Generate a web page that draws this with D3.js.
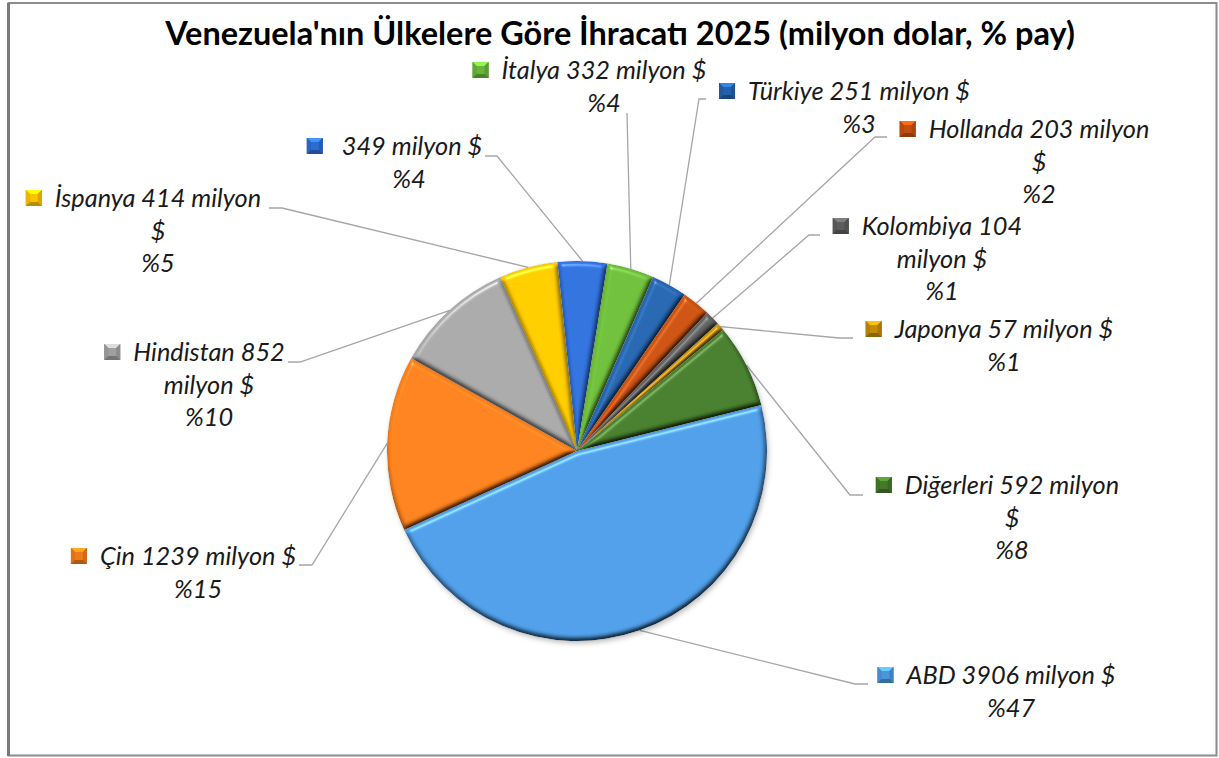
<!DOCTYPE html>
<html><head><meta charset="utf-8">
<script src="https://cdn.jsdelivr.net/npm/d3@7"></script>
<style>
body{margin:0;background:#fff}
svg{display:block}
text{font-family:Lato,'Open Sans',sans-serif;white-space:pre}
</style>
</head><body><script>
// ---------- data ----------
const categories = ["ABD","Çin","Hindistan","İspanya","","İtalya","Türkiye","Hollanda","Kolombiya","Japonya","Diğerleri"];
const values = [3906,1239,852,414,349,332,251,203,104,57,592];
const percentLabels = [47,15,10,5,4,4,3,2,1,1,8];
const colors = ["#4a95dc","#f07a1a","#a0a0a0","#fbc200","#2e6bd2","#68b538","#2461a8","#c24e0e","#5c5c5c","#c08b05","#44782a"];
const titleText = "Venezuela'nın Ülkelere Göre İhracatı 2025 (milyon dolar, % pay)";
const unitText = "milyon $";

// ---------- layout ----------
const W = 1219, H = 758;
const cx = 577, cy = 451, R = 190;
const rotationDeg = 76;
const lineGap = 32.5;
// label anchors: centre x, first baseline y, word break, leader [labelX, elbowX, y]
const labelLayout = [
  {cx:1011, y:684, brk:null, lead:[868,855,684]},
  {cx:198,  y:565, brk:null, lead:[299,312,565]},
  {cx:209,  y:361, brk:2,    lead:[288,300,362]},
  {cx:158,  y:207, brk:3,    lead:[269,282,208]},
  {cx:409,  y:155, brk:null, lead:[485,497,156]},
  {cx:604,  y:79,  brk:null, lead:[627,627,113]},
  {cx:859,  y:100, brk:null, lead:[706,699,99]},
  {cx:1039, y:138, brk:3,    lead:[887,875,137]},
  {cx:942,  y:235, brk:2,    lead:[820,809,235]},
  {cx:1004, y:338, brk:null, lead:[853,839,338]},
  {cx:1012, y:494, brk:3,    lead:[863,850,495]}
];

const svg = d3.select("body").append("svg").attr("width", W).attr("height", H);
const defs = svg.append("defs");

// chart border
svg.append("rect").attr("x", 8.5).attr("y", 3).attr("width", 1208).attr("height", 752.5)
  .attr("fill", "#fff").attr("stroke", "#8c8c8c").attr("stroke-width", 2);
svg.append("line").attr("x1", 8.5).attr("x2", 8.5).attr("y1", 3).attr("y2", 756)
  .attr("stroke", "#7a7a7a").attr("stroke-width", 3);

// title (fit to reference width)
const title = svg.append("text").attr("x", 620).attr("y", 45).attr("text-anchor", "middle")
  .attr("font-weight", "bold").attr("font-size", 26).attr("fill", "#000").text(titleText);
const tw = title.node().getComputedTextLength();
title.attr("font-size", 26 * 910 / tw);

// ---------- pie ----------
const rot = rotationDeg * Math.PI / 180;
const pie = d3.pie().sort(null).value(d => d).startAngle(rot).endAngle(rot + 2 * Math.PI);
const arcs = pie(values);
const arc = d3.arc().innerRadius(0).outerRadius(R);
const edgeArc = d3.arc().innerRadius(R).outerRadius(R);

// gradients
colors.forEach((c, i) => {
  const g = defs.append("linearGradient").attr("id", "g" + i)
    .attr("gradientUnits", "userSpaceOnUse").attr("x1", 0).attr("x2", 0)
    .attr("y1", cy - R).attr("y2", cy + R);
  g.append("stop").attr("offset", "0%").attr("stop-color", d3.color(c).brighter(0.12));
  g.append("stop").attr("offset", "50%").attr("stop-color", c);
  g.append("stop").attr("offset", "100%").attr("stop-color", d3.color(c).darker(0.4));
});

// bevel filter
const el = 55;
const f = defs.append("filter").attr("id", "bevel").attr("x", "-5%").attr("y", "-5%")
  .attr("width", "110%").attr("height", "110%").attr("color-interpolation-filters", "sRGB");
f.append("feGaussianBlur").attr("in", "SourceAlpha").attr("stdDeviation", 2.6).attr("result", "blur");
f.append("feDiffuseLighting").attr("in", "blur").attr("surfaceScale", 3)
  .attr("diffuseConstant", 1 / Math.sin(el * Math.PI / 180)).attr("lighting-color", "#fff").attr("result", "diff")
  .append("feDistantLight").attr("azimuth", 250).attr("elevation", el);
f.append("feComposite").attr("in", "SourceGraphic").attr("in2", "diff").attr("operator", "arithmetic")
  .attr("k1", 1).attr("k2", 0).attr("k3", 0).attr("k4", 0).attr("result", "lit");
f.append("feSpecularLighting").attr("in", "blur").attr("surfaceScale", 3).attr("specularConstant", 0.6)
  .attr("specularExponent", 45).attr("lighting-color", "#fff").attr("result", "spec")
  .append("feDistantLight").attr("azimuth", 250).attr("elevation", 50);
f.append("feComposite").attr("in", "spec").attr("in2", "SourceAlpha").attr("operator", "in").attr("result", "specIn");
f.append("feComposite").attr("in", "lit").attr("in2", "specIn").attr("operator", "arithmetic")
  .attr("k1", 0).attr("k2", 1).attr("k3", 0.5).attr("k4", 0).attr("result", "out");
f.append("feComposite").attr("in", "out").attr("in2", "SourceAlpha").attr("operator", "in");

// drop shadow
const sh = defs.append("filter").attr("id", "shadow").attr("x", "-10%").attr("y", "-10%")
  .attr("width", "120%").attr("height", "120%");
sh.append("feDropShadow").attr("dx", 1.5).attr("dy", 2.5).attr("stdDeviation", 2.5)
  .attr("flood-color", "#000").attr("flood-opacity", 0.25);

// leader lines
const leaders = svg.append("g").attr("fill", "none").attr("stroke", "#a6a6a6").attr("stroke-width", 1.3);
arcs.forEach((a, i) => {
  const L = labelLayout[i];
  const p = edgeArc.centroid(a);
  leaders.append("path").attr("d", d3.line()([[L.lead[0], L.lead[2]], [L.lead[1], L.lead[2]], [cx + p[0], cy + p[1]]]));
});

const pieG = svg.append("g").attr("transform", `translate(${cx},${cy})`).attr("filter", "url(#shadow)");
pieG.selectAll("path").data(arcs).join("path")
  .attr("d", arc)
  .attr("fill", (d, i) => `url(#g${i})`)
  .attr("filter", "url(#bevel)");
svg.append("g").attr("transform", `translate(${cx},${cy})`)
  .selectAll("path").data(arcs).join("path")
  .attr("d", arc).attr("fill", "none").attr("stroke", "rgba(0,0,0,0.15)").attr("stroke-width", 0.6);

// ---------- labels ----------
const labG = svg.append("g");
function marker(x, y, c) {
  const s = 16, k = 4;
  const g = labG.append("g").attr("transform", `translate(${x},${y})`);
  const base = d3.color(c);
  g.append("rect").attr("width", s).attr("height", s).attr("fill", base.darker(0.6));
  g.append("path").attr("d", `M0,0L${s},0L${s-k},${k}L${k},${k}Z`).attr("fill", base.brighter(0.9));
  g.append("path").attr("d", `M0,${s}L${s},${s}L${s-k},${s-k}L${k},${s-k}Z`).attr("fill", base.darker(0.9));
  g.append("path").attr("d", `M0,0L${k},${k}L${k},${s-k}L0,${s}Z`).attr("fill", base.darker(0.2));
  g.append("path").attr("d", `M${s},0L${s-k},${k}L${s-k},${s-k}L${s},${s}Z`).attr("fill", base.darker(0.4));
  g.append("rect").attr("x", k).attr("y", k).attr("width", s - 2 * k).attr("height", s - 2 * k).attr("fill", base);
}
// fit label font to reference width of one label line (Türkiye line ≈ 222px)
const probe = labG.append("text").attr("font-style", "italic").attr("font-size", 22)
  .text(`${categories[6]} ${values[6]} ${unitText}`);
const labelSize = 22 * 222 / probe.node().getComputedTextLength();
probe.remove();

categories.forEach((name, i) => {
  const L = labelLayout[i];
  const words = `${name} ${values[i]} ${unitText}`.split(" ");
  const lines = L.brk ? [words.slice(0, L.brk).join(" "), words.slice(L.brk).join(" ")] : [words.join(" ")];
  lines.push("%" + percentLabels[i]);
  let firstW = 0;
  lines.forEach((t, j) => {
    const tx = labG.append("text").attr("x", L.cx).attr("y", L.y + j * lineGap)
      .attr("text-anchor", "middle").attr("font-style", "italic").attr("font-size", labelSize)
      .attr("fill", "#1a1a1a").text(t);
    if (j === 0) firstW = tx.node().getComputedTextLength();
  });
  marker(L.cx - firstW / 2 - 13 - 16, L.y - 17, colors[i]);
});
</script></body></html>
